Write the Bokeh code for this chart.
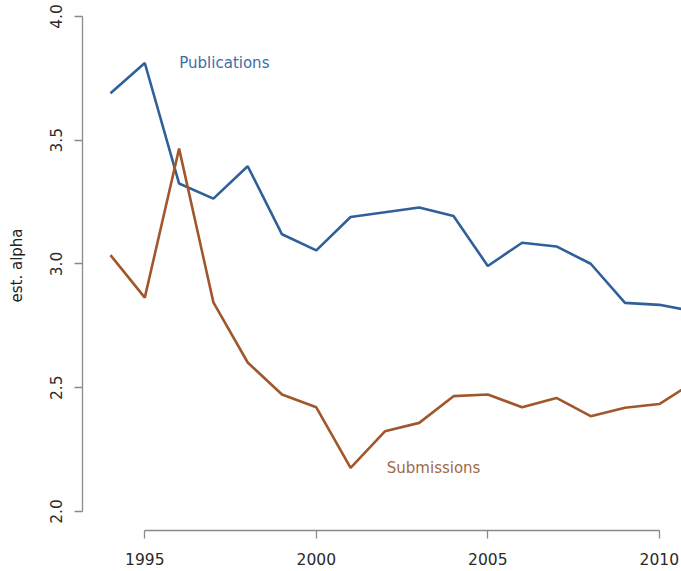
from bokeh.plotting import figure
from bokeh.models import Range1d, ColumnDataSource, Label, FixedTicker, PrintfTickFormatter
from bokeh.embed import file_html
from bokeh.resources import INLINE

years = list(range(1994, 2012))
publications = [3.69, 3.812, 3.325, 3.264, 3.395, 3.12, 3.055, 3.19, 3.209, 3.228,
                3.194, 2.992, 3.086, 3.071, 3.001, 2.843, 2.835, 2.809]
submissions = [3.036, 2.864, 3.466, 2.845, 2.602, 2.473, 2.421, 2.176, 2.324, 2.358,
               2.466, 2.473, 2.421, 2.459, 2.385, 2.419, 2.434, 2.522]
x_ticks = [1995, 2000, 2005, 2010]
y_ticks = [2.0, 2.5, 3.0, 3.5, 4.0]
y_label = "est. alpha"
series_names = ["Publications", "Submissions"]

BLUE = "#2f609a"
BROWN = "#a0572b"
BLUE_TXT = "#3c6ea6"
BROWN_TXT = "#9e6a48"
FONT = "DejaVu Sans"

p = figure(width=681, height=571, output_backend="svg", toolbar_location=None,
           x_range=Range1d(1993.1837, 2010.647), y_range=Range1d(1.9232, 4.0646),
           min_border_left=82, min_border_right=0, min_border_top=0,
           min_border_bottom=41)
p.outline_line_color = None
p.xgrid.visible = False
p.ygrid.visible = False
p.background_fill_color = "white"
p.border_fill_color = "white"

src = ColumnDataSource(dict(year=years, pub=publications, sub=submissions))
p.line("year", "pub", source=src, line_color=BLUE, line_width=2.6)
p.line("year", "sub", source=src, line_color=BROWN, line_width=2.6)

p.add_layout(Label(x=1997.32, y=3.814, text=series_names[0], text_color=BLUE_TXT,
                   text_font=FONT, text_font_size="15px", text_align="center",
                   text_baseline="middle"))
p.add_layout(Label(x=2003.42, y=2.174, text=series_names[1], text_color=BROWN_TXT,
                   text_font=FONT, text_font_size="15px", text_align="center",
                   text_baseline="middle"))

for ax in (p.xaxis[0], p.yaxis[0]):
    ax.axis_line_color = "#8a8a8a"
    ax.axis_line_width = 1.3
    ax.major_tick_line_color = "#8a8a8a"
    ax.major_tick_line_width = 1.3
    ax.major_tick_out = 8
    ax.major_tick_in = 0
    ax.minor_tick_line_color = None
    ax.major_label_text_font = FONT
    ax.major_label_text_font_size = "15.5px"
    ax.major_label_text_color = "#2a2a2a"

p.xaxis[0].ticker = FixedTicker(ticks=x_ticks)
p.xaxis[0].bounds = (x_ticks[0], x_ticks[-1])
p.xaxis[0].major_label_standoff = 14

p.yaxis[0].ticker = FixedTicker(ticks=y_ticks)
p.yaxis[0].bounds = (y_ticks[0], y_ticks[-1])
p.yaxis[0].major_label_orientation = "parallel"
p.yaxis[0].major_label_standoff = 12
p.yaxis[0].formatter = PrintfTickFormatter(format="%.1f")
p.yaxis[0].axis_label = y_label
p.yaxis[0].axis_label_text_font = FONT
p.yaxis[0].axis_label_text_font_size = "15px"
p.yaxis[0].axis_label_text_font_style = "normal"
p.yaxis[0].axis_label_text_color = "#222222"
p.yaxis[0].axis_label_standoff = 22

open("out.html", "w").write(file_html(p, INLINE))
